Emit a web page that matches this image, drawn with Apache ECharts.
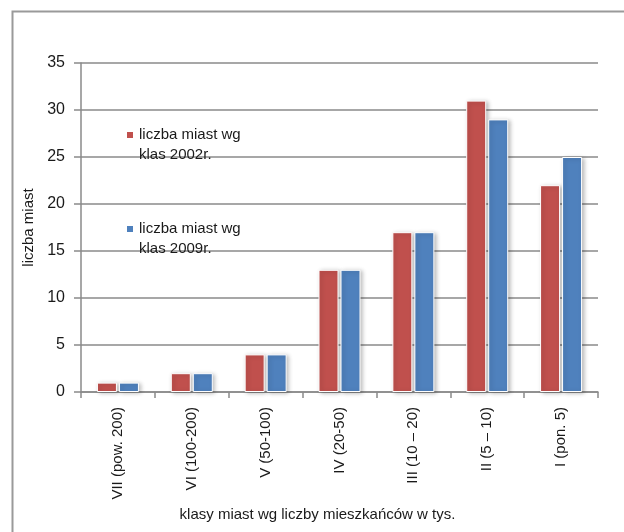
<!DOCTYPE html>
<html><head><meta charset="utf-8">
<script src="https://cdn.jsdelivr.net/npm/echarts@6/dist/echarts.min.js"></script>
<style>html,body{margin:0;padding:0;background:#fff}#c{width:624px;height:532px}</style>
</head><body><div id="c"></div>
<script>
const categories = ['VII (pow. 200)', 'VI (100-200)', 'V (50-100)', 'IV (20-50)', 'III (10 – 20)', 'II (5 – 10)', 'I (pon. 5)'];
const values2002 = [1, 2, 4, 13, 17, 31, 22];
const values2009 = [1, 2, 4, 13, 17, 29, 25];
const seriesNames = ['liczba miast wg klas 2002r.', 'liczba miast wg klas 2009r.'];
const legendLabels = ['liczba miast wg\nklas 2002r.', 'liczba miast wg\nklas 2009r.'];
const yTicks = {min: 0, max: 35, interval: 5};
const xAxisTitle = 'klasy miast wg liczby mieszkańców w tys.';
const yAxisTitle = 'liczba miast';

const FONT = '"Liberation Sans", Arial, sans-serif';
const chart = echarts.init(document.getElementById('c'), null, {renderer: 'canvas'});
const legendText = {fontFamily: FONT, fontSize: 15, color: '#1a1a1a', lineHeight: 20};
const barShadow = {shadowColor: 'rgba(0,0,0,0.25)', shadowBlur: 4, shadowOffsetX: 2, shadowOffsetY: 1};
chart.setOption({
  animation: false,
  backgroundColor: '#fff',
  textStyle: {fontFamily: FONT},
  graphic: [{
    type: 'rect', left: 10, top: 9, shape: {width: 700, height: 600},
    style: {fill: 'none', stroke: '#9a9a9a', lineWidth: 2}, silent: true
  }],
  grid: {left: 81, right: 26, top: 63, bottom: 140, containLabel: false},
  legend: [
    {data: [seriesNames[0]], left: 125, top: 105, padding: 0, orient: 'vertical', itemWidth: 8, itemHeight: 8, itemGap: 4,
     icon: 'rect', formatter: () => '\n' + legendLabels[0], textStyle: legendText},
    {data: [seriesNames[1]], left: 125, top: 199, padding: 0, orient: 'vertical', itemWidth: 8, itemHeight: 8, itemGap: 4,
     icon: 'rect', formatter: () => '\n' + legendLabels[1], textStyle: legendText}
  ],
  xAxis: {
    type: 'category', data: categories,
    name: xAxisTitle, nameLocation: 'middle', nameGap: 106,
    nameTextStyle: {fontFamily: FONT, fontSize: 15, color: '#1a1a1a', padding: [0, 44, 0, 0]},
    axisLine: {lineStyle: {color: '#8a8a8a', width: 1.5}},
    axisTick: {show: true, alignWithLabel: false, length: 6, lineStyle: {color: '#8a8a8a', width: 1.5}},
    axisLabel: {rotate: 90, fontFamily: FONT, fontSize: 15, color: '#1a1a1a', margin: 15, interval: 0}
  },
  yAxis: {
    type: 'value', min: yTicks.min, max: yTicks.max, interval: yTicks.interval,
    name: yAxisTitle, nameLocation: 'middle', nameGap: 42,
    nameTextStyle: {fontFamily: FONT, fontSize: 15, color: '#1a1a1a'},
    axisLine: {show: true, lineStyle: {color: '#8a8a8a', width: 1.5}},
    axisTick: {show: true, length: 7, lineStyle: {color: '#8a8a8a', width: 1.5}},
    axisLabel: {fontFamily: FONT, fontSize: 16, color: '#1a1a1a', margin: 16},
    splitLine: {lineStyle: {color: '#8a8a8a', width: 1.5}}
  },
  series: [
    {name: seriesNames[0], type: 'bar', data: values2002, barWidth: 20, barGap: '10%',
     itemStyle: Object.assign({color: '#C0504D', borderColor: '#fff', borderWidth: 1}, barShadow)},
    {name: seriesNames[1], type: 'bar', data: values2009, barWidth: 20, barGap: '10%',
     itemStyle: Object.assign({color: '#4F81BD', borderColor: '#fff', borderWidth: 1}, barShadow)}
  ]
});
</script></body></html>
